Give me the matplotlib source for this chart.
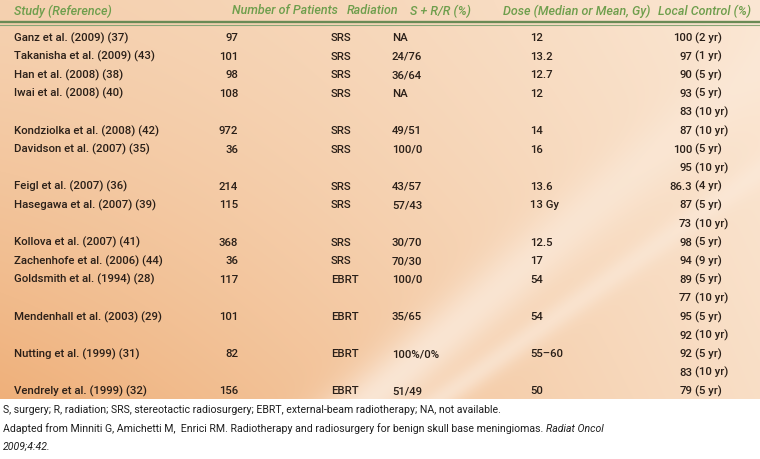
import numpy as np
import matplotlib.pyplot as plt

# ---------- table content ----------
headers = ["Study (Reference)", "Number of Patients", "Radiation",
           "S + R/R (%)", "Dose (Median or Mean, Gy)", "Local Control (%)"]

studies = ["Ganz et al. (2009) (37)", "Takanisha et al. (2009) (43)",
           "Han et al. (2008) (38)", "Iwai et al. (2008) (40)",
           "Kondziolka et al. (2008) (42)", "Davidson et al. (2007) (35)",
           "Feigl et al. (2007) (36)", "Hasegawa et al. (2007) (39)",
           "Kollova et al. (2007) (41)", "Zachenhofe et al. (2006) (44)",
           "Goldsmith et al. (1994) (28)", "Mendenhall et al. (2003) (29)",
           "Nutting et al. (1999) (31)", "Vendrely et al. (1999) (32)"]
patients = [97, 101, 98, 108, 972, 36, 214, 115, 368, 36, 117, 101, 82, 156]
radiation = ["SRS"] * 10 + ["EBRT"] * 4
s_r_ratio = ["NA", "24/76", "36/64", "NA", "49/51", "100/0", "43/57", "57/43",
             "30/70", "70/30", "100/0", "35/65", "100%/0%", "51/49"]
dose = ["12", "13.2", "12.7", "12", "14", "16", "13.6", "13 Gy", "12.5", "17",
        "54", "54", "55\u201360", "50"]
local_control = [["100 (2 yr)"], ["97 (1 yr)"], ["90 (5 yr)"],
                 ["93 (5 yr)", "83 (10 yr)"], ["87 (10 yr)"],
                 ["100 (5 yr)", "95 (10 yr)"], ["86.3 (4 yr)"],
                 ["87 (5 yr)", "73 (10 yr)"], ["98 (5 yr)"], ["94 (9 yr)"],
                 ["89 (5 yr)", "77 (10 yr)"], ["95 (5 yr)", "92 (10 yr)"],
                 ["92 (5 yr)", "83 (10 yr)"], ["79 (5 yr)"]]

footnote_1 = ("S, surgery; R, radiation; SRS, stereotactic radiosurgery; "
              "EBRT, external-beam radiotherapy; NA, not available.")
footnote_2 = ("Adapted from Minniti G, Amichetti M,  Enrici RM. Radiotherapy and "
              "radiosurgery for benign skull base meningiomas. ")
footnote_2_it = "Radiat Oncol"
footnote_3_it = "2009;4:42."

# ---------- layout ----------
W, H = 760, 460
TABLE_BOTTOM = 400
HEAD_Y = 11
FIRST_Y = 38
LINE_H = 18.6
FONT = ["Roboto", "DejaVu Sans"]
GREEN = "#6e9e4c"
INK = "#2a1f18"

fig = plt.figure(figsize=(W / 100, H / 100), dpi=100, facecolor="white")
ax = fig.add_axes([0, 0, 1, 1])
ax.set_xlim(0, W)
ax.set_ylim(H, 0)
ax.axis("off")
renderer = fig.canvas.get_renderer()


def fit_size(txt, width, **kw):
    """font size that makes txt about `width` pixels wide"""
    t = ax.text(0, 0, txt, fontsize=10, family=FONT, **kw)
    w = t.get_window_extent(renderer=renderer).width
    t.remove()
    return 10 * width / w


body_size = fit_size(studies[0], 114, weight="medium")
head_size = fit_size(headers[4], 147, style="italic", weight="medium")
foot_size = fit_size(footnote_1, 497)

# peach background with soft light streaks
yy, xx = np.mgrid[0:TABLE_BOTTOM, 0:W].astype(float)
xn, yn = xx / W, yy / TABLE_BOTTOM
c_top = np.array([245, 209, 176]) / 255
c_low = np.array([239, 176, 122]) / 255
c_right = np.array([251, 231, 212]) / 255
w_low = (yn ** 1.3 * (1 - xn) ** 1.2)[..., None]
w_right = (xn ** 1.6 * (1 - 0.4 * yn))[..., None]
bg = c_top + (c_low - c_top) * w_low + (c_right - c_top) * w_right
streak = np.exp(-((xx - (370 + (TABLE_BOTTOM - yy) * 1.15)) / 45) ** 2) * yn
streak += 0.7 * np.exp(-((xx - (440 + (TABLE_BOTTOM - yy) * 1.4)) / 22) ** 2) * yn
bg = bg + (1 - bg) * np.clip(0.55 * streak, 0, 1)[..., None]
ax.imshow(np.clip(bg, 0, 1), extent=[0, W, TABLE_BOTTOM, 0], aspect="auto",
          zorder=0, interpolation="bilinear")

# header
head_x = [14, 232, 347, 410, 503, 658]
for x, h in zip(head_x, headers):
    ax.text(x, HEAD_Y, h, family=FONT, style="italic", weight="medium",
            fontsize=head_size, color=GREEN, ha="left", va="center")
ax.plot([0, W], [22.5, 22.5], color="#6a8a55", lw=1.7, zorder=2)
ax.plot([0, W], [25.5, 25.5], color="#8aa677", lw=0.8, zorder=2)

# body rows
kw = dict(family=FONT, fontsize=body_size, weight="medium", color=INK,
          va="center")
line = 0
for i, name in enumerate(studies):
    y = FIRST_Y + line * LINE_H
    ax.text(14, y, name, ha="left", **kw)
    ax.text(238, y, str(patients[i]), ha="right", **kw)
    ax.text(331, y, radiation[i], ha="left", **kw)
    ax.text(392, y, s_r_ratio[i], ha="left", **kw)
    ax.text(530, y, dose[i], ha="left", **kw)
    for entry in local_control[i]:
        yl = FIRST_Y + line * LINE_H
        num, rest = entry.split(" ", 1)
        ax.text(692, yl, num, ha="right", **kw)
        ax.text(695, yl, rest, ha="left", **kw)
        line += 1

# footnotes
fkw = dict(family=FONT, fontsize=foot_size, color="#1e1e1e", va="baseline")
ax.text(3, 413, footnote_1, ha="left", **fkw)
t2 = ax.text(3, 432, footnote_2, ha="left", **fkw)
bb = t2.get_window_extent(renderer=renderer)
x_end = ax.transData.inverted().transform((bb.x1, bb.y0))[0]
ax.text(x_end, 432, footnote_2_it, ha="left", style="italic", **fkw)
ax.text(3, 450, footnote_3_it, ha="left", style="italic", **fkw)

fig.savefig("out.png", dpi=100, facecolor="white")
